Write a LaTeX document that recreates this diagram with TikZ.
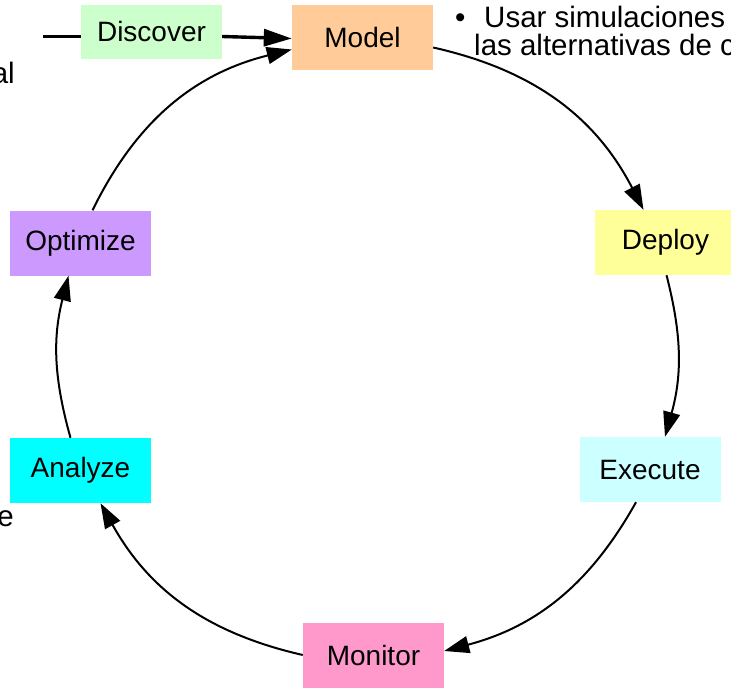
\documentclass[tikz,border=0pt]{standalone}
\usepackage{fontspec}
\setmainfont{Liberation Sans}
\usetikzlibrary{arrows.meta}
\definecolor{cDiscover}{HTML}{CCFFCC}
\definecolor{cModel}{HTML}{FFCC99}
\definecolor{cDeploy}{HTML}{FFFF99}
\definecolor{cExecute}{HTML}{CCFFFF}
\definecolor{cMonitor}{HTML}{FF99CC}
\definecolor{cAnalyze}{HTML}{00FFFF}
\definecolor{cOptimize}{HTML}{CC99FF}
\tikzset{
  phase/.style={minimum width=141pt, minimum height=65pt, inner sep=0pt,
    font=\fontsize{28}{33}\selectfont},
  txt/.style={inner sep=0pt, font=\fontsize{29.5}{35}\selectfont},
  flow/.style={line width=2pt, -{Triangle[length=25pt,width=17pt]}},
  entryline/.style={line width=3.4pt},
}
\begin{document}
\begin{tikzpicture}[x=1pt, y=-1pt]
\useasboundingbox (0,0) rectangle (731,691);
\clip (0,0) rectangle (731,691);

% phase boxes
\node[phase, fill=cDiscover, minimum height=54pt] (discover) at (151.5,31.5) {Discover};
\node[phase, fill=cModel]    (model)    at (362.5,37.5) {Model};
\node[phase, fill=cDeploy]   (deploy)   at (665.5,242.5) {Deploy};
\node[phase, fill=cExecute]  (execute)  at (650,469.5) {Execute};
\node[phase, fill=cMonitor]  (monitor)  at (373.5,655) {Monitor};
\node[phase, fill=cAnalyze]  (analyze)  at (80.5,470.5) {Analyze};
\node[phase, fill=cOptimize] (optimize) at (80.5,243) {Optimize};

% entry into the cycle
\coordinate (entry) at (43,36.5);
\draw[entryline] (entry) -- ([yshift=-5pt]discover.west);
\draw[entryline, -{Triangle[length=28pt,width=17pt]}] ([yshift=-5pt]discover.east) -- ([yshift=-1pt]model.west);

% the cycle
\draw[flow] ([yshift=-10pt]model.east) to[bend left=25] ([xshift=-22pt]deploy.north);
\draw[flow] ([xshift=1pt]deploy.south) to[bend left=15] ([xshift=15pt]execute.north);
\draw[flow] ([xshift=-14pt]execute.south) to[bend left=23] ([yshift=4pt]monitor.east);
\draw[flow] (monitor.west) to[bend left=24] ([xshift=20pt]analyze.south);
\draw[flow] ([xshift=-10pt]analyze.north) to[bend left=15] ([xshift=-12pt]optimize.south);
\draw[flow] ([xshift=12pt]optimize.north) to[bend left=25] ([yshift=-12pt]model.west);

% surrounding text
\node[txt, anchor=base east] (tal) at (15,83) {al};
\node[txt, anchor=base east] (te) at (14,526) {e};
\node[txt, anchor=base west] (bullet) at (455,27) {•};
\node[txt, anchor=base west] (line1) at (484,27) {Usar simulaciones};
\node[txt, anchor=base west] (line2) at (474,55) {las alternativas de c};
\end{tikzpicture}
\end{document}
